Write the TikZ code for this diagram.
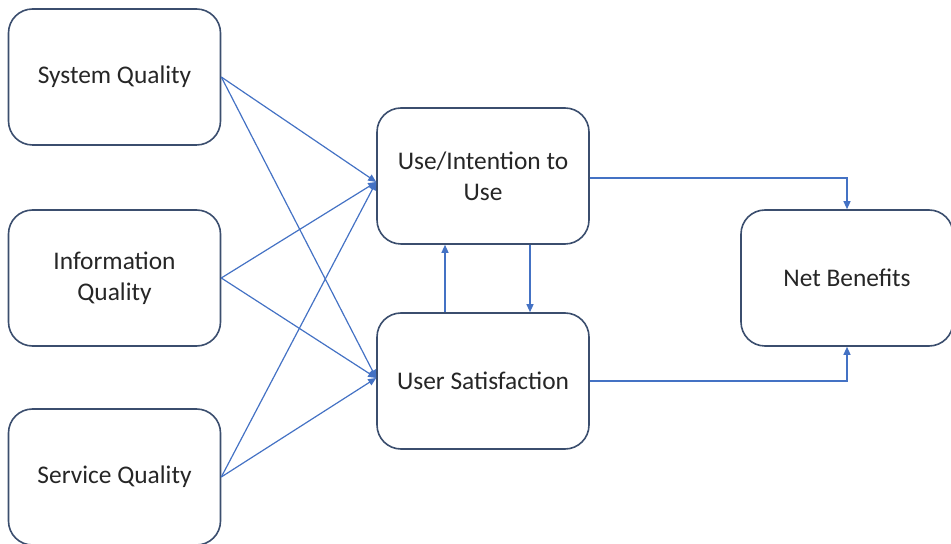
\documentclass[tikz,border=0pt]{standalone}
\usepackage{fontspec}
\setmainfont{Carlito}
\usetikzlibrary{arrows.meta}
\definecolor{boxline}{HTML}{3B4E6E}
\definecolor{arrblue}{HTML}{4472C4}
\definecolor{txt}{HTML}{262626}

\begin{document}
\begin{tikzpicture}[x=0.5pt, y=-0.5pt,
	factor/.style={draw=boxline, line width=0.8pt, rounded corners=12pt, fill=white,
		minimum width=106pt, minimum height=68pt, align=center, text=txt,
		font=\fontsize{12.7}{15.5}\selectfont},
	arr/.style={draw=arrblue, line width=0.6pt, -{Triangle[length=4pt, width=3.5pt]}}]
	\useasboundingbox (0,0) rectangle (951,544);
	% quality factors
	\node[factor] (SQ) at (114.5,77) {System Quality};
	\node[factor] (IQ) at (114.5,278) {Information\\Quality};
	\node[factor] (SVQ) at (114.5,477) {Service Quality};
	% use and satisfaction
	\node[factor] (UI) at (483,176) {Use/Intention to\\Use};
	\node[factor] (US) at (483,381) {User Satisfaction};
	\node[factor] (NB) at (847,278) {Net Benefits};
	\foreach \src in {SQ,IQ,SVQ}{
		\draw[arr] (\src.east) -- ([yshift=-3pt]UI.west);
		\draw[arr] (\src.east) -- ([yshift=1.5pt]US.west);
	}
	\draw[arr] ([xshift=-19pt]US.north) -- ([xshift=-19pt]UI.south);
	\draw[arr] ([xshift=23.5pt]UI.south) -- ([xshift=23.5pt]US.north);
	\draw[arr] ([yshift=-1pt]UI.east) -| (NB.north);
	\draw[arr] (US.east) -| (NB.south);
\end{tikzpicture}
\end{document}
